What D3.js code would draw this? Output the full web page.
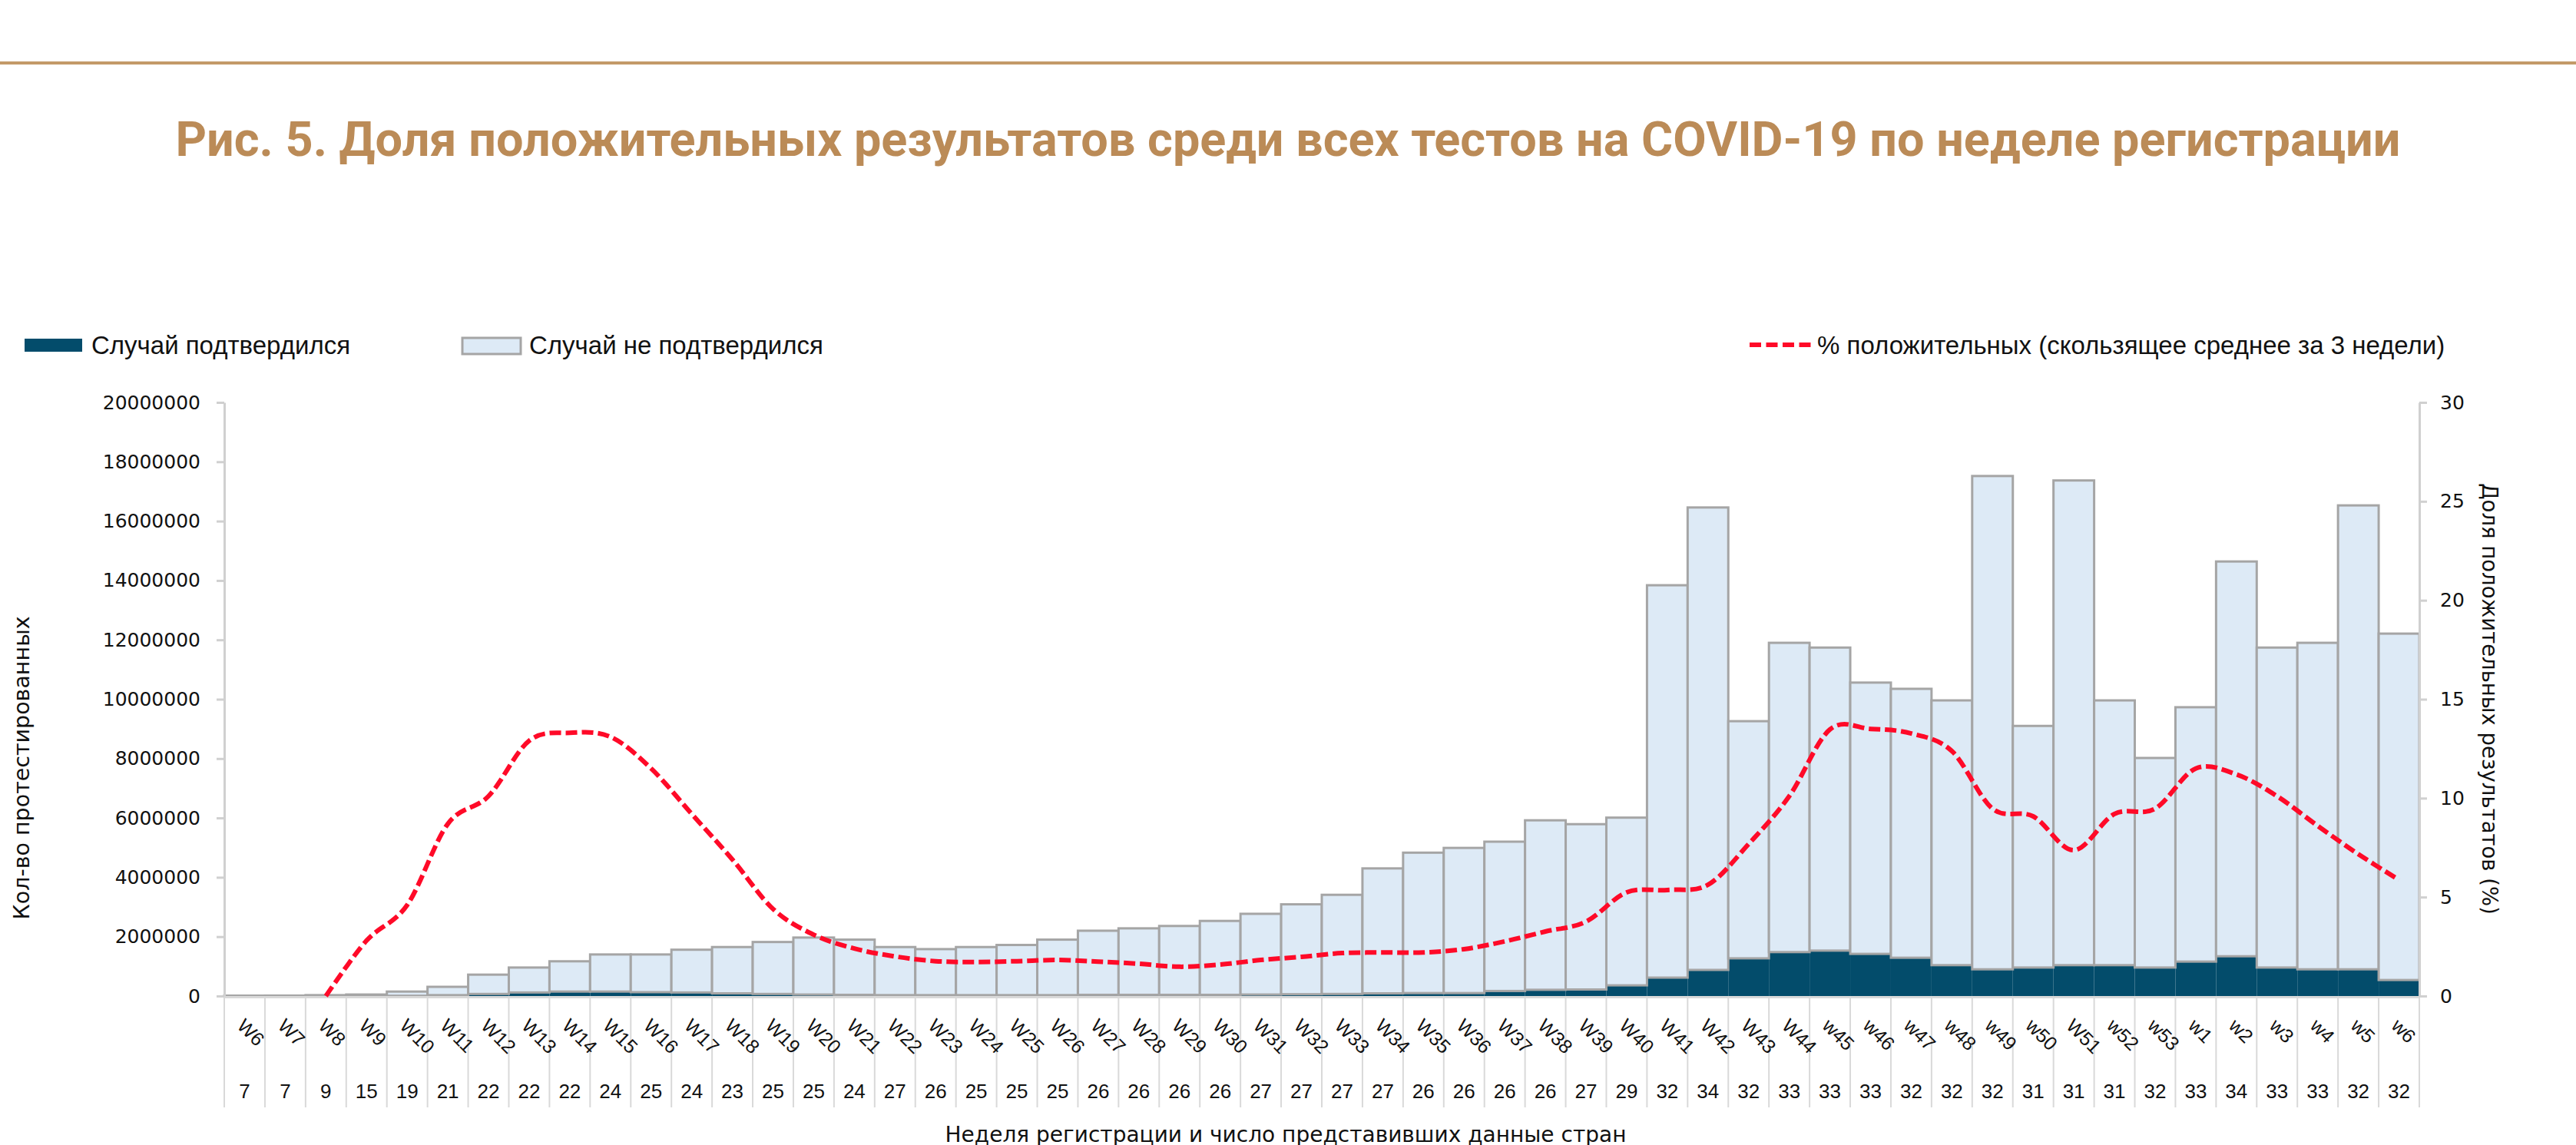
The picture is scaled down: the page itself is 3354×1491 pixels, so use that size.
<!DOCTYPE html>
<html><head><meta charset="utf-8">
<script src="https://cdn.jsdelivr.net/npm/d3@7"></script>
<style>html,body{margin:0;padding:0;background:#fff;}svg{display:block;}</style>
</head><body>
<script>
const weeks = ["W6","W7","W8","W9","W10","W11","W12","W13","W14","W15","W16","W17","W18","W19","W20","W21","W22","W23","W24","W25","W26","W27","W28","W29","W30","W31","W32","W33","W34","W35","W36","W37","W38","W39","W40","W41","W42","W43","W44","w45","w46","w47","w48","w49","w50","W51","w52","w53","w1","w2","w3","w4","w5","w6"];
const countries = [7,7,9,15,19,21,22,22,22,24,25,24,23,25,25,24,27,26,25,25,25,26,26,26,26,27,27,27,27,26,26,26,26,27,29,32,34,32,33,33,33,32,32,32,31,31,31,32,33,34,33,33,32,32];
// millions
const confirmed = [0.002,0.003,0.005,0.004,0.008,0.03,0.07,0.12,0.15,0.15,0.13,0.12,0.09,0.07,0.05,0.04,0.03,0.03,0.03,0.03,0.03,0.04,0.04,0.04,0.04,0.05,0.06,0.07,0.09,0.10,0.10,0.17,0.21,0.22,0.36,0.62,0.88,1.27,1.48,1.53,1.42,1.29,1.04,0.90,0.96,1.04,1.04,0.96,1.16,1.34,0.96,0.90,0.90,0.54];
const notConfirmed = [0.010,0.012,0.025,0.046,0.142,0.28,0.65,0.84,1.02,1.25,1.27,1.44,1.56,1.75,1.92,1.86,1.62,1.55,1.62,1.69,1.87,2.16,2.24,2.32,2.49,2.72,3.03,3.34,4.21,4.73,4.89,5.03,5.71,5.57,5.65,13.22,15.58,7.99,10.42,10.21,9.14,9.06,8.92,16.62,8.14,16.33,8.92,7.06,8.57,13.30,10.78,11.00,15.63,11.67];
const positivity = [null,null,0,2.8,4.6,8.7,10.1,12.9,13.3,13.1,11.5,9.2,6.9,4.4,3.1,2.4,2.0,1.76,1.72,1.76,1.82,1.74,1.63,1.48,1.59,1.82,1.98,2.17,2.2,2.2,2.37,2.76,3.26,3.76,5.24,5.36,5.62,7.68,10.1,13.47,13.5,13.27,12.38,9.47,9.08,7.37,9.2,9.47,11.5,11.2,10.1,8.6,7.17,5.87];
const leftTicks = [0,2000000,4000000,6000000,8000000,10000000,12000000,14000000,16000000,18000000,20000000];
const rightTicks = [0,5,10,15,20,25,30];

const W = 3354, H = 1491;
const L = 292, R = 3150, T = 524, B = 1297;
const svg = d3.select("body").append("svg").attr("width", W).attr("height", H);

// top rule and title
svg.append("rect").attr("x",0).attr("y",80).attr("width",W).attr("height",4).attr("fill","#c39a68");
svg.append("text").attr("x",W/2).attr("y",203).attr("text-anchor","middle")
  .attr("font-family","Roboto").attr("font-weight","bold").attr("font-size",63).attr("fill","#bb8b57")
  .text("Рис. 5. Доля положительных результатов среди всех тестов на COVID-19 по неделе регистрации");

const x = d3.scaleBand().domain(weeks).range([L,R]).padding(0);
const yL = d3.scaleLinear().domain([0,20000000]).range([B,T]);
const yR = d3.scaleLinear().domain([0,30]).range([B,T]);

const data = weeks.map((w,i)=>({w, c:confirmed[i]*1e6, n:notConfirmed[i]*1e6, p:positivity[i], k:countries[i]}));

// confirmed bars
svg.append("g").selectAll("rect").data(data).join("rect")
  .attr("x", d=>x(d.w)).attr("width", x.bandwidth())
  .attr("y", d=>yL(d.c)).attr("height", d=>B-yL(d.c))
  .attr("fill","#034c6b");
// not-confirmed bars
svg.append("g").selectAll("rect").data(data).join("rect")
  .attr("x", d=>x(d.w)).attr("width", x.bandwidth())
  .attr("y", d=>yL(d.c+d.n)).attr("height", d=>yL(d.c)-yL(d.c+d.n))
  .attr("fill","#ddeaf6").attr("stroke","#a5a5a5").attr("stroke-width",3);

// x axis line and separators
svg.append("line").attr("x1",L).attr("x2",R).attr("y1",B+1.5).attr("y2",B+1.5).attr("stroke","#d9d9d9").attr("stroke-width",3);
const bounds = weeks.map(w=>x(w)).concat([R]);
svg.append("g").selectAll("line").data(bounds).join("line")
  .attr("x1",d=>d).attr("x2",d=>d).attr("y1",B).attr("y2",1442)
  .attr("stroke","#d9d9d9").attr("stroke-width",2);

// week labels
svg.append("g").selectAll("text").data(data).join("text")
  .attr("transform", d=>`translate(${x(d.w)+x.bandwidth()/2+2},${1324}) rotate(45)`)
  .attr("dy","0.75em")
  .attr("font-family","Liberation Sans").attr("font-size",25).attr("fill","#111")
  .text(d=>d.w);
// country counts
svg.append("g").selectAll("text").data(data).join("text")
  .attr("x", d=>x(d.w)+x.bandwidth()/2).attr("y",1430).attr("text-anchor","middle")
  .attr("font-family","Liberation Sans").attr("font-size",26).attr("fill","#111")
  .text(d=>d.k);

// left axis
const gL = svg.append("g").attr("transform",`translate(${L},0)`)
  .call(d3.axisLeft(yL).tickValues(leftTicks).tickFormat(d3.format("d")).tickSize(10).tickSizeOuter(0).tickPadding(21));
gL.select(".domain").attr("stroke","#d0d0d0").attr("stroke-width",3);
gL.selectAll(".tick line").attr("stroke","#d0d0d0").attr("stroke-width",3);
gL.selectAll(".tick text").attr("font-family","DejaVu Sans").attr("font-size",25).attr("fill","#111");

// right axis
const gR = svg.append("g").attr("transform",`translate(${R},0)`)
  .call(d3.axisRight(yR).tickValues(rightTicks).tickSize(10).tickSizeOuter(0).tickPadding(17));
gR.select(".domain").attr("stroke","#d0d0d0").attr("stroke-width",3);
gR.selectAll(".tick line").attr("stroke","#d0d0d0").attr("stroke-width",3);
gR.selectAll(".tick text").attr("font-family","DejaVu Sans").attr("font-size",25).attr("fill","#111");

// positivity line
const line = d3.line().defined(d=>d.p!=null).x(d=>x(d.w)+x.bandwidth()/2).y(d=>yR(d.p)).curve(d3.curveCardinal.tension(0));
svg.append("path").datum(data).attr("d",line).attr("fill","none")
  .attr("stroke","#ff0a28").attr("stroke-width",6).attr("stroke-dasharray","15 6");

// axis titles
svg.append("text").attr("transform","translate(38,1000) rotate(-90)").attr("text-anchor","middle")
  .attr("font-family","DejaVu Sans").attr("font-size",28.5).attr("fill","#111").text("Кол-во протестированных");
svg.append("text").attr("transform","translate(3232,910) rotate(90)").attr("text-anchor","middle")
  .attr("font-family","DejaVu Sans").attr("font-size",27.5).attr("fill","#111").text("Доля положительных результатов (%)");
svg.append("text").attr("x",1674).attr("y",1487).attr("text-anchor","middle")
  .attr("font-family","DejaVu Sans").attr("font-size",28).attr("fill","#111").text("Неделя регистрации и число представивших данные стран");

// legend
const lg = svg.append("g");
lg.append("rect").attr("x",32).attr("y",441).attr("width",75).attr("height",17).attr("fill","#034c6b");
lg.append("text").attr("x",119).attr("y",461).attr("font-family","Liberation Sans").attr("font-size",33).attr("fill","#111").text("Случай подтвердился");
lg.append("rect").attr("x",602).attr("y",440).attr("width",76).attr("height",21).attr("fill","#ddeaf6").attr("stroke","#a5a5a5").attr("stroke-width",3);
lg.append("text").attr("x",689).attr("y",461).attr("font-family","Liberation Sans").attr("font-size",33).attr("fill","#111").text("Случай не подтвердился");
lg.append("line").attr("x1",2278).attr("x2",2364).attr("y1",449).attr("y2",449).attr("stroke","#ff0a28").attr("stroke-width",6).attr("stroke-dasharray","15 6.5");
lg.append("text").attr("x",2366).attr("y",461).attr("font-family","Liberation Sans").attr("font-size",33).attr("fill","#111").text("% положительных (скользящее среднее за 3 недели)");
</script>
</body></html>
